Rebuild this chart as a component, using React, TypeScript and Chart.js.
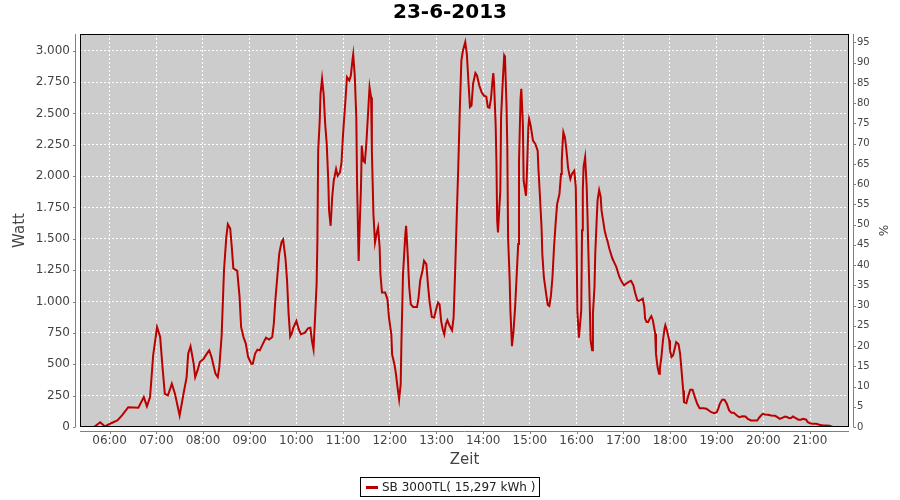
import React, { useEffect, useRef } from "react";
import { Chart, registerables } from "chart.js";

Chart.register(...registerables);

const CHART_TITLE = "23-6-2013";
const SERIES_LABEL = "SB 3000TL( 15,297 kWh )";
const X_TITLE = "Zeit";
const Y_TITLE = "Watt";
const Y2_TITLE = "%";

const HOUR_TICKS = ["06:00", "07:00", "08:00", "09:00", "10:00", "11:00", "12:00", "13:00", "14:00", "15:00", "16:00", "17:00", "18:00", "19:00", "20:00", "21:00"];
const WATT_TICKS = [0, 250, 500, 750, 1000, 1250, 1500, 1750, 2000, 2250, 2500, 2750, 3000];
const PCT_TICKS = [0, 5, 10, 15, 20, 25, 30, 35, 40, 45, 50, 55, 60, 65, 70, 75, 80, 85, 90, 95];

const X_MIN = "05:22";
const X_MAX = "21:50";
const WATT_MAX = 3133;
const PCT_MAX = 97.1;

const TIMES = [
  "05:40", "05:48", "05:54", "06:02", "06:10", "06:16", "06:24", "06:37", "06:44", "06:48",
  "06:52", "06:56", "07:01", "07:05", "07:08", "07:11", "07:15", "07:20", "07:24", "07:30",
  "07:35", "07:39", "07:41", "07:44", "07:48", "07:50", "07:53", "07:56", "08:01", "08:05",
  "08:08", "08:11", "08:16", "08:19", "08:21", "08:24", "08:27", "08:30", "08:32", "08:35",
  "08:37", "08:39", "08:44", "08:47", "08:49", "08:52", "08:55", "08:58", "09:02", "09:04",
  "09:07", "09:10", "09:13", "09:18", "09:21", "09:25", "09:29", "09:31", "09:33", "09:36",
  "09:38", "09:41", "09:43", "09:46", "09:48", "09:50", "09:52", "09:54", "09:56", "10:00",
  "10:03", "10:06", "10:11", "10:15", "10:18", "10:20", "10:22", "10:24", "10:26", "10:27",
  "10:28", "10:30", "10:31", "10:33", "10:35", "10:37", "10:39", "10:41", "10:42", "10:44",
  "10:46", "10:48", "10:51", "10:53", "10:56", "10:58", "11:00", "11:03", "11:05", "11:08",
  "11:10", "11:12", "11:13", "11:15", "11:17", "11:18", "11:20", "11:21", "11:23", "11:24",
  "11:26", "11:28", "11:30", "11:33", "11:34", "11:36", "11:37", "11:39", "11:41", "11:43",
  "11:45", "11:47", "11:48", "11:50", "11:54", "11:57", "11:59", "12:02", "12:03", "12:06",
  "12:08", "12:10", "12:12", "12:14", "12:15", "12:17", "12:20", "12:21", "12:23", "12:25",
  "12:27", "12:30", "12:35", "12:37", "12:39", "12:42", "12:44", "12:47", "12:49", "12:51",
  "12:54", "12:57", "12:59", "13:02", "13:04", "13:06", "13:08", "13:10", "13:12", "13:14",
  "13:17", "13:20", "13:22", "13:24", "13:26", "13:28", "13:30", "13:32", "13:34", "13:37",
  "13:39", "13:41", "13:43", "13:45", "13:47", "13:50", "13:52", "13:55", "13:58", "14:01",
  "14:04", "14:06", "14:08", "14:10", "14:12", "14:13", "14:14", "14:16", "14:17", "14:18",
  "14:19", "14:22", "14:23", "14:25", "14:27", "14:28", "14:30", "14:31", "14:32", "14:34",
  "14:35", "14:37", "14:39", "14:41", "14:43", "14:45", "14:46", "14:48", "14:49", "14:51",
  "14:52", "14:55", "14:56", "14:58", "14:59", "15:01", "15:04", "15:07", "15:10", "15:11",
  "15:13", "15:15", "15:16", "15:18", "15:21", "15:23", "15:25", "15:27", "15:29", "15:31",
  "15:33", "15:35", "15:38", "15:40", "15:41", "15:42", "15:43", "15:45", "15:47", "15:49",
  "15:51", "15:52", "15:54", "15:57", "15:59", "16:00", "16:01", "16:03", "16:06", "16:07",
  "16:08", "16:09", "16:11", "16:13", "16:14", "16:15", "16:17", "16:18", "16:20", "16:21",
  "16:23", "16:24", "16:26", "16:27", "16:29", "16:31", "16:32", "16:34", "16:36", "16:38",
  "16:40", "16:42", "16:44", "16:46", "16:48", "16:51", "16:53", "16:55", "16:58", "17:01",
  "17:04", "17:07", "17:10", "17:13", "17:15", "17:18", "17:20", "17:23", "17:25", "17:27",
  "17:28", "17:30", "17:32", "17:34", "17:36", "17:38", "17:41", "17:42", "17:44", "17:46",
  "17:47", "17:49", "17:51", "17:53", "17:54", "17:56", "17:59", "18:00", "18:02", "18:04",
  "18:06", "18:08", "18:11", "18:13", "18:15", "18:17", "18:18", "18:21", "18:23", "18:26",
  "18:29", "18:32", "18:35", "18:38", "18:43", "18:47", "18:50", "18:53", "18:57", "19:00",
  "19:02", "19:04", "19:07", "19:10", "19:13", "19:16", "19:19", "19:22", "19:26", "19:29",
  "19:33", "19:37", "19:40", "19:44", "19:48", "19:52", "19:55", "19:59", "20:02", "20:06",
  "20:10", "20:15", "20:18", "20:21", "20:24", "20:28", "20:31", "20:33", "20:36", "20:38",
  "20:41", "20:45", "20:48", "20:51", "20:55", "20:57", "21:01", "21:04", "21:08", "21:12",
  "21:17", "21:21", "21:25", "21:29"
];

const WATTS = [
  0, 38, 4, 30, 52, 92, 158, 153, 238, 164,
  238, 571, 797, 717, 478, 265, 252, 345, 265, 92,
  265, 398, 585, 643, 505, 398, 451, 518, 545, 585,
  611, 558, 425, 398, 478, 731, 1250, 1516, 1617, 1583,
  1436, 1264, 1245, 1037, 797, 717, 665, 558, 505, 505,
  585, 617, 611, 677, 712, 697, 717, 824, 1010, 1236,
  1383, 1476, 1495, 1343, 1170, 904, 720, 744, 790, 845,
  779, 739, 752, 787, 792, 685, 619, 872, 1138, 1484,
  2203, 2442, 2656, 2776, 2656, 2416, 2256, 1963, 1724, 1604,
  1831, 1963, 2057, 2003, 2030, 2110, 2336, 2602, 2789, 2762,
  2802, 2922, 2970, 2802, 2470, 1937, 1324, 1538, 1911, 2243,
  2123, 2110, 2270, 2602, 2709, 2629, 2203, 1697, 1471, 1538,
  1591, 1431, 1218, 1072, 1072, 1020, 870, 739, 579, 499,
  419, 313, 220, 339, 685, 1218, 1538, 1604, 1378, 1112,
  978, 957, 957, 1032, 1165, 1245, 1324, 1298, 1138, 1005,
  877, 872, 925, 992, 978, 845, 779, 739, 819, 851,
  805, 771, 872, 1245, 1671, 2070, 2536, 2922, 3001, 3069,
  2975, 2762, 2550, 2562, 2736, 2821, 2802, 2722, 2669, 2642,
  2634, 2550, 2544, 2616, 2762, 2821, 2736, 2416, 2123, 1644,
  1551, 1883, 2470, 2736, 2962, 2949, 2562, 2230, 1511, 1178,
  925, 645, 765, 952, 1204, 1458, 2110, 2616, 2696, 2416,
  1963, 1843, 1990, 2390, 2456, 2403, 2283, 2256, 2203, 2057,
  1831, 1591, 1378, 1192, 1058, 973, 965, 1045, 1192, 1431,
  1617, 1777, 1857, 2017, 2123, 2256, 2350, 2310, 2203, 2070,
  2003, 1977, 2017, 2043, 1911, 1458, 925, 712, 931, 1569,
  1889, 2075, 2150, 1915, 1689, 1436, 957, 691, 611, 904,
  1117, 1383, 1676, 1809, 1889, 1835, 1729, 1649, 1569, 1516,
  1476, 1423, 1383, 1343, 1316, 1276, 1236, 1196, 1157, 1130,
  1144, 1157, 1165, 1130, 1077, 1010, 1005, 1016, 1024, 957,
  864, 837, 837, 864, 883, 851, 744, 585, 478, 425,
  465, 558, 691, 784, 811, 771, 691, 611, 558, 571,
  624, 677, 659, 585, 440, 290, 198, 190, 238, 297,
  297, 238, 185, 150, 150, 145, 132, 118, 110, 118,
  145, 185, 217, 217, 185, 132, 113, 113, 92, 78,
  86, 84, 65, 52, 52, 52, 78, 105, 100, 97,
  92, 89, 78, 65, 73, 84, 78, 70, 73, 84,
  73, 58, 58, 65, 58, 38, 28, 26, 26, 18,
  12, 12, 10, 0
];

const FONT = '"DejaVu Sans", sans-serif';
const LINE_COLOR = "#bb0000";

function toHours(t: string): number {
  const [h, m] = t.split(":").map(Number);
  return h + m / 60;
}

function fmtHour(v: number): string {
  const h = Math.round(v);
  return (h < 10 ? "0" : "") + h + ":00";
}

function fmtGerman(v: number): string {
  return String(Math.round(v)).replace(/\B(?=(\d{3})+(?!\d))/g, ".");
}

export default function App() {
  const ref = useRef<HTMLCanvasElement>(null);

  useEffect(() => {
    const canvas = ref.current;
    if (!canvas) return;

    const stylePlugin = {
      id: "jfreeStyle",
      beforeDraw(chart: any) {
        const { ctx, chartArea: a } = chart;
        ctx.save();
        ctx.fillStyle = "#ffffff";
        ctx.fillRect(0, 0, chart.width, chart.height);
        ctx.fillStyle = "#cccccc";
        ctx.fillRect(a.left, a.top, a.right - a.left, a.bottom - a.top);
        ctx.restore();
      },
      afterDatasetsDraw(chart: any) {
        const { ctx, chartArea: a, scales } = chart;
        ctx.save();
        ctx.strokeStyle = "#000000";
        ctx.lineWidth = 1;
        ctx.strokeRect(a.left + 0.5, a.top + 0.5, a.right - a.left - 1, a.bottom - a.top - 1);
        ctx.strokeStyle = "#808080";
        ctx.beginPath();
        ctx.moveTo(a.left - 4.5, a.top);
        ctx.lineTo(a.left - 4.5, a.bottom);
        ctx.moveTo(a.left, a.bottom + 4.5);
        ctx.lineTo(a.right, a.bottom + 4.5);
        ctx.moveTo(a.right + 4.5, a.top);
        ctx.lineTo(a.right + 4.5, a.bottom);
        WATT_TICKS.forEach((v) => {
          const y = Math.round(scales.y.getPixelForValue(v)) + 0.5;
          ctx.moveTo(a.left - 4.5, y);
          ctx.lineTo(a.left - 7, y);
        });
        PCT_TICKS.forEach((v) => {
          const y = Math.round(scales.y1.getPixelForValue(v)) + 0.5;
          ctx.moveTo(a.right + 4.5, y);
          ctx.lineTo(a.right + 7, y);
        });
        HOUR_TICKS.forEach((t) => {
          const x = Math.round(scales.x.getPixelForValue(toHours(t))) + 0.5;
          ctx.moveTo(x, a.bottom + 4.5);
          ctx.lineTo(x, a.bottom + 7);
        });
        ctx.stroke();
        ctx.restore();
      },
      afterDraw(chart: any) {
        const { ctx } = chart;
        ctx.save();
        ctx.font = "12px " + FONT;
        const tw = ctx.measureText(SERIES_LABEL).width;
        const boxW = Math.round(6 + 12 + 4 + tw + 5);
        const boxH = 20;
        const x0 = Math.round(chart.width / 2 - boxW / 2);
        const y0 = 477;
        ctx.fillStyle = "#ffffff";
        ctx.fillRect(x0, y0, boxW, boxH);
        ctx.strokeStyle = "#000000";
        ctx.lineWidth = 1;
        ctx.strokeRect(x0 + 0.5, y0 + 0.5, boxW - 1, boxH - 1);
        ctx.strokeStyle = LINE_COLOR;
        ctx.lineWidth = 3;
        ctx.beginPath();
        ctx.moveTo(x0 + 6, y0 + 10.5);
        ctx.lineTo(x0 + 18, y0 + 10.5);
        ctx.stroke();
        ctx.fillStyle = "#222222";
        ctx.textBaseline = "middle";
        ctx.textAlign = "left";
        ctx.fillText(SERIES_LABEL, x0 + 22, y0 + 10.5);
        ctx.restore();
      },
    };

    const points = TIMES.map((t, i) => ({ x: toHours(t), y: WATTS[i] }));

    const chart = new Chart(canvas, {
      type: "line",
      data: {
        datasets: [
          {
            label: SERIES_LABEL,
            data: points,
            borderColor: LINE_COLOR,
            backgroundColor: LINE_COLOR,
            borderWidth: 2,
            pointRadius: 0,
            tension: 0,
            fill: false,
            yAxisID: "y",
          },
        ],
      },
      options: {
        responsive: false,
        animation: false,
        devicePixelRatio: 1,
        layout: { padding: 0 },
        plugins: {
          legend: { display: false },
          tooltip: { enabled: false },
          title: {
            display: true,
            text: CHART_TITLE,
            color: "#000000",
            font: { family: FONT, size: 20, weight: "bold", lineHeight: 1.1 },
            padding: { top: 2, bottom: 10 },
          },
        },
        scales: {
          x: {
            type: "linear",
            min: toHours(X_MIN),
            max: toHours(X_MAX),
            afterBuildTicks: (s: any) => {
              s.ticks = HOUR_TICKS.map((t) => ({ value: toHours(t) }));
            },
            afterFit: (s: any) => {
              s.height = 73;
            },
            ticks: {
              callback: (v: any) => fmtHour(Number(v)),
              color: "#444444",
              font: { family: FONT, size: 12 },
              padding: 7,
              maxRotation: 0,
              autoSkip: false,
            },
            grid: { color: "#ffffff", lineWidth: 1, drawTicks: false },
            border: { display: false, dash: [2, 2] },
            title: {
              display: true,
              text: X_TITLE,
              color: "#444444",
              font: { family: FONT, size: 15, lineHeight: 1.2 },
              padding: { top: 0, bottom: 31 },
            },
          },
          y: {
            type: "linear",
            position: "left",
            min: 0,
            max: WATT_MAX,
            afterBuildTicks: (s: any) => {
              s.ticks = WATT_TICKS.map((v) => ({ value: v }));
            },
            afterFit: (s: any) => {
              s.width = 80;
            },
            ticks: {
              callback: (v: any) => fmtGerman(Number(v)),
              color: "#444444",
              font: { family: FONT, size: 12 },
              padding: 10,
              autoSkip: false,
            },
            grid: { color: "#ffffff", lineWidth: 1, drawTicks: false },
            border: { display: false, dash: [2, 2] },
            title: {
              display: true,
              text: Y_TITLE,
              color: "#444444",
              font: { family: FONT, size: 15, lineHeight: 1.2 },
              padding: { top: 11, bottom: 0 },
            },
          },
          y1: {
            type: "linear",
            position: "right",
            min: 0,
            max: PCT_MAX,
            afterBuildTicks: (s: any) => {
              s.ticks = PCT_TICKS.map((v) => ({ value: v }));
            },
            afterFit: (s: any) => {
              s.width = 51;
            },
            ticks: {
              callback: (v: any) => String(v),
              color: "#444444",
              font: { family: FONT, size: 10 },
              padding: 8,
              autoSkip: false,
            },
            grid: { drawOnChartArea: false, drawTicks: false },
            border: { display: false },
            title: {
              display: true,
              text: Y2_TITLE,
              color: "#444444",
              font: { family: FONT, size: 12, lineHeight: 1.2 },
              padding: { top: 11, bottom: 0 },
            },
          },
        },
      },
      plugins: [stylePlugin],
    } as any);

    return () => {
      chart.destroy();
    };
  }, []);

  return (
    <div style={{ position: "absolute", left: 0, top: 0, width: 900, height: 500, background: "#ffffff" }}>
      <canvas ref={ref} width={900} height={500} style={{ display: "block", width: 900, height: 500 }} />
    </div>
  );
}
